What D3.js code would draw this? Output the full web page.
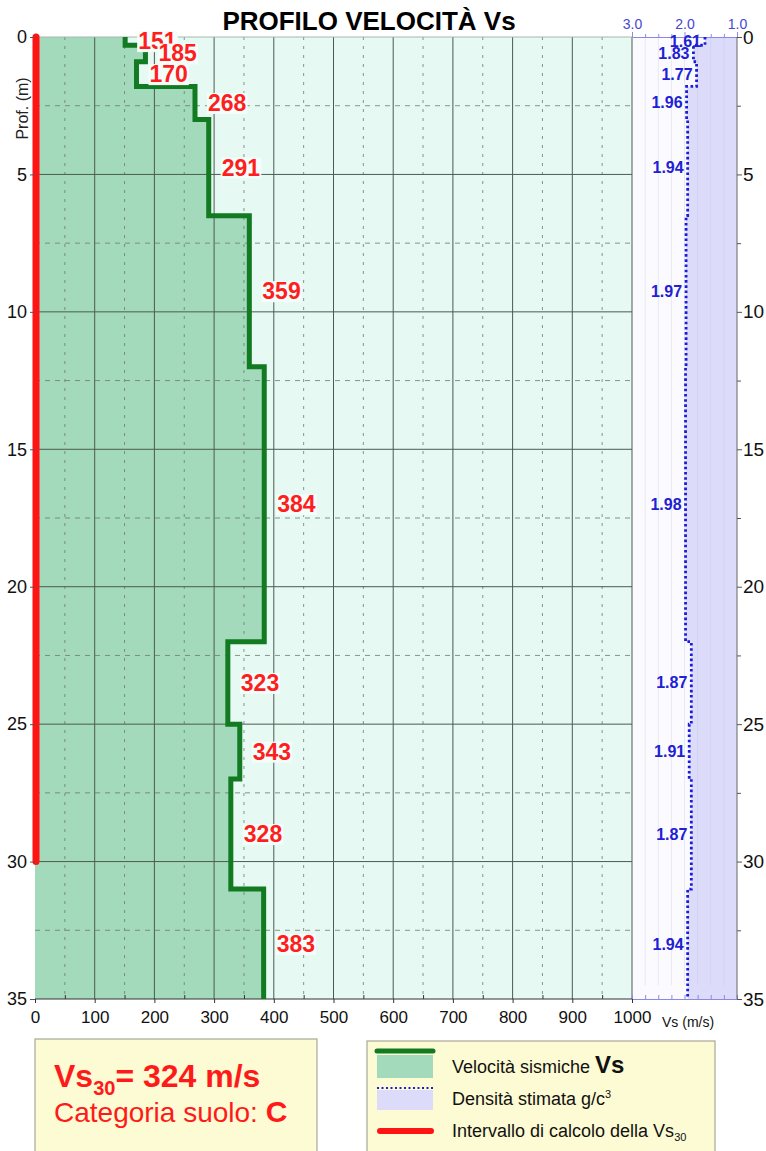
<!DOCTYPE html>
<html>
<head>
<meta charset="utf-8">
<script src="https://cdn.jsdelivr.net/npm/d3@7"></script>
<style>
  body { margin: 0; background: #fff; }
  text { font-family: "Liberation Sans", Arial, sans-serif; }
</style>
</head>
<body>
<div id="chart"></div>
<script>
// layers of the profile (depth in m)
const layerTop = [0, 0.3, 0.9, 1.8, 3.0, 6.5, 12, 22, 25, 27, 31];
const layerBottom = [0.3, 0.9, 1.8, 3.0, 6.5, 12, 22, 25, 27, 31, 35];
const vsValues = [151, 185, 170, 268, 291, 359, 384, 323, 343, 328, 383];
const densityValues = [1.61, 1.83, 1.77, 1.96, 1.94, 1.97, 1.98, 1.87, 1.91, 1.87, 1.94];

const depthTicks = [0, 5, 10, 15, 20, 25, 30, 35];
const depthMinor = [2.5, 7.5, 12.5, 17.5, 22.5, 27.5, 32.5];
const vsTicks = [0, 100, 200, 300, 400, 500, 600, 700, 800, 900, 1000];
const vsMinor = [50, 150, 250, 350, 450, 550, 650, 750, 850, 950];
const densityTicks = [3.0, 2.0, 1.0];
const densityMinor = [2.75, 2.5, 2.25, 1.75, 1.5, 1.25];

const vs30 = 324, vs30Depth = 30, soilCategory = "C";

const width = 766, height = 1151;

const svg = d3.select("#chart").append("svg")
  .attr("width", width)
  .attr("height", height)
  .style("display", "block");

const x = d3.scaleLinear([0, 1000], [35, 632]);
const y = d3.scaleLinear([0, 35], [37, 999]);
const xd = d3.scaleLinear([3, 1], [632, 737]);

const layers = vsValues.map((v, i) => ({v, d: densityValues[i], top: layerTop[i], bottom: layerBottom[i]}));
const steps = layers.flatMap(l => [{v: l.v, d: l.d, z: l.top}, {v: l.v, d: l.d, z: l.bottom}]);

// title
svg.append("text")
  .attr("x", 369).attr("y", 30)
  .attr("text-anchor", "middle")
  .attr("font-size", 26).attr("font-weight", "bold")
  .text("PROFILO VELOCITÀ Vs");

// backgrounds
svg.append("rect")
  .attr("x", x(0)).attr("y", y(0))
  .attr("width", x(1000) - x(0)).attr("height", y(35) - y(0))
  .attr("fill", "#e6f9f2");

svg.append("rect")
  .attr("x", xd(3)).attr("y", y(0))
  .attr("width", xd(1) - xd(3)).attr("height", y(35) - y(0))
  .attr("fill", "#fbfbff");

// Vs area
svg.append("path")
  .datum(steps)
  .attr("fill", "#a3dabb")
  .attr("d", d3.area().y(d => y(d.z)).x0(x(0)).x1(d => x(d.v)));

// density area
svg.append("path")
  .datum(steps)
  .attr("fill", "#dcdcfa")
  .attr("d", d3.area().y(d => y(d.z)).x0(d => xd(d.d)).x1(xd(1)));

// density panel faint grid
svg.append("g")
  .selectAll("line")
  .data(densityMinor.concat([2.0]))
  .join("line")
  .attr("x1", d => xd(d)).attr("x2", d => xd(d))
  .attr("y1", y(0)).attr("y2", y(34.5))
  .attr("stroke", "#b8b8e0").attr("stroke-opacity", 0.3).attr("stroke-width", 1);

// grid
const grid = svg.append("g");
grid.selectAll(".vmaj")
  .data(vsTicks.slice(1))
  .join("line")
  .attr("x1", d => x(d)).attr("x2", d => x(d))
  .attr("y1", y(0)).attr("y2", y(35))
  .attr("stroke", "#4d5a52").attr("stroke-width", 1);
grid.selectAll(".vmin")
  .data(vsMinor)
  .join("line")
  .attr("x1", d => x(d)).attr("x2", d => x(d))
  .attr("y1", y(0)).attr("y2", y(35))
  .attr("stroke", "#6d7a72").attr("stroke-width", 0.8)
  .attr("stroke-dasharray", "3,6");
grid.selectAll(".hmaj")
  .data(depthTicks.slice(1, -1))
  .join("line")
  .attr("x1", x(0)).attr("x2", x(1000))
  .attr("y1", d => y(d)).attr("y2", d => y(d))
  .attr("stroke", "#4d5a52").attr("stroke-width", 1);
grid.selectAll(".hmin")
  .data(depthMinor)
  .join("line")
  .attr("x1", x(0)).attr("x2", x(1000))
  .attr("y1", d => y(d)).attr("y2", d => y(d))
  .attr("stroke", "#6d7a72").attr("stroke-width", 0.8)
  .attr("stroke-dasharray", "5,5");

// frame lines
svg.append("line")
  .attr("x1", x(0)).attr("x2", x(1000)).attr("y1", y(0)).attr("y2", y(0))
  .attr("stroke", "#a8b8b0").attr("stroke-width", 1);
svg.append("line")
  .attr("x1", x(0)).attr("x2", x(1000)).attr("y1", y(35)).attr("y2", y(35))
  .attr("stroke", "#333").attr("stroke-width", 1);

// density panel axes (top and bottom)
const blue = "#4646d2";
const topAxis = svg.append("g")
  .attr("transform", `translate(0,${y(0)})`)
  .call(d3.axisTop(xd).tickValues(densityTicks).tickFormat(d3.format(".1f")).tickSize(5).tickPadding(3));
topAxis.selectAll("path").attr("stroke", "#8a8ae6");
topAxis.selectAll("line").attr("stroke", "#8a8ae6");
topAxis.selectAll("text").attr("fill", blue).attr("font-size", 14).attr("font-family", null);
svg.append("g")
  .attr("transform", `translate(0,${y(0)})`)
  .call(d3.axisTop(xd).tickValues(densityMinor).tickFormat("").tickSize(3))
  .call(g => g.select(".domain").remove())
  .selectAll("line").attr("stroke", "#8a8ae6");

svg.append("g")
  .attr("transform", `translate(0,${y(35)})`)
  .call(d3.axisTop(xd).tickValues(densityTicks.concat(densityMinor)).tickFormat("").tickSize(4))
  .call(g => g.selectAll("path, line").attr("stroke", "#8a8ae6"));

// Vs step line
svg.append("path")
  .datum(steps)
  .attr("fill", "none")
  .attr("stroke", "#127a20")
  .attr("stroke-width", 5)
  .attr("d", d3.line().x(d => x(d.v)).y(d => y(d.z)));

// density dotted line
svg.append("path")
  .datum(steps)
  .attr("fill", "none")
  .attr("stroke", "#1c1cd8")
  .attr("stroke-width", 2.8)
  .attr("stroke-dasharray", "2.6,2.6")
  .attr("d", d3.line().x(d => xd(d.d)).y(d => y(d.z)));

// Vs30 interval
svg.append("line")
  .attr("x1", x(0) + 1).attr("x2", x(0) + 1)
  .attr("y1", y(0)).attr("y2", y(vs30Depth))
  .attr("stroke", "#ff1414").attr("stroke-width", 7)
  .attr("stroke-linecap", "round");

// right axis line
svg.append("line")
  .attr("x1", xd(1)).attr("x2", xd(1)).attr("y1", y(0)).attr("y2", y(35))
  .attr("stroke", "#666").attr("stroke-width", 1);

// left axis
const leftAxis = svg.append("g")
  .attr("transform", `translate(${x(0)},0)`)
  .call(d3.axisLeft(y).tickValues(depthTicks).tickSize(5).tickPadding(3));
leftAxis.select(".domain").remove();
leftAxis.selectAll("line").attr("stroke", "#555");
leftAxis.selectAll("text").attr("font-size", 18).attr("font-family", null).attr("fill", "#111");

svg.append("text")
  .attr("transform", `translate(22,${y(2.6)}) rotate(-90)`)
  .attr("text-anchor", "middle")
  .attr("dominant-baseline", "central")
  .attr("font-size", 16)
  .attr("fill", "#222")
  .text("Prof. (m)");

// right axis
const rightAxis = svg.append("g")
  .attr("transform", `translate(${xd(1)},0)`)
  .call(d3.axisRight(y).tickValues(depthTicks).tickSize(5).tickPadding(1));
rightAxis.select(".domain").remove();
rightAxis.selectAll("line").attr("stroke", "#555");
rightAxis.selectAll("text").attr("font-size", 19).attr("font-family", null).attr("fill", "#111");
svg.append("g")
  .attr("transform", `translate(${xd(1)},0)`)
  .call(d3.axisRight(y).tickValues(depthMinor).tickFormat("").tickSize(4))
  .call(g => g.select(".domain").remove())
  .selectAll("line").attr("stroke", "#555");

// bottom axis
const bottomAxis = svg.append("g")
  .attr("transform", `translate(0,${y(35)})`)
  .call(d3.axisBottom(x).tickValues(vsTicks).tickFormat(d3.format("d")).tickSize(4).tickPadding(8));
bottomAxis.select(".domain").remove();
bottomAxis.selectAll("line").attr("stroke", "#333");
bottomAxis.selectAll("text").attr("font-size", 17).attr("font-family", null).attr("fill", "#111");
svg.append("g")
  .attr("transform", `translate(0,${y(35)})`)
  .call(d3.axisTop(x).tickValues(vsMinor).tickFormat("").tickSize(4))
  .call(g => g.select(".domain").remove())
  .selectAll("line").attr("stroke", "#333");

svg.append("text")
  .attr("x", 662).attr("y", y(35) + 28)
  .attr("font-size", 14)
  .attr("fill", "#111")
  .text("Vs (m/s)");

// Vs labels
const vsLabels = svg.append("g");
layers.forEach(l => {
  const g = vsLabels.append("g");
  const t = g.append("text")
    .attr("x", x(l.v) + 13)
    .attr("y", y((l.top + l.bottom) / 2))
    .attr("dominant-baseline", "central")
    .attr("font-size", 23)
    .attr("font-weight", "bold")
    .attr("fill", "#ff1e1e")
    .text(l.v);
  const b = t.node().getBBox();
  g.insert("rect", "text")
    .attr("x", b.x - 1).attr("y", b.y + 3)
    .attr("width", b.width + 2).attr("height", b.height - 5)
    .attr("fill", "#f3fdfa");
});

// density labels
svg.append("g")
  .selectAll("text")
  .data(layers)
  .join("text")
  .attr("x", d => xd(d.d) - 4)
  .attr("y", d => y((d.top + d.bottom) / 2))
  .attr("text-anchor", "end")
  .attr("dominant-baseline", "central")
  .attr("font-size", 16)
  .attr("font-weight", "bold")
  .attr("fill", "#2020d4")
  .text(d => d.d.toFixed(2));

// result box
svg.append("rect")
  .attr("x", 35).attr("y", 1039)
  .attr("width", 282).attr("height", 130)
  .attr("fill", "#fdfbd3").attr("stroke", "#a9a898").attr("stroke-width", 1.2);

const res = svg.append("text")
  .attr("x", 54).attr("y", 1087)
  .attr("font-size", 32).attr("font-weight", "bold")
  .attr("fill", "#ff1a1a");
res.append("tspan").text("Vs");
res.append("tspan").attr("font-size", 20).attr("dy", 8).text("30");
res.append("tspan").attr("dy", -8).text(`= ${vs30} m/s`);

const cat = svg.append("text")
  .attr("x", 54).attr("y", 1122)
  .attr("font-size", 28)
  .attr("fill", "#ff1a1a");
cat.append("tspan").text("Categoria suolo: ");
cat.append("tspan").attr("font-weight", "bold").attr("font-size", 30).text(soilCategory);

// legend box
svg.append("rect")
  .attr("x", 367).attr("y", 1041)
  .attr("width", 348).attr("height", 130)
  .attr("fill", "#fdfbd3").attr("stroke", "#a9a898").attr("stroke-width", 1.2);

svg.append("rect")
  .attr("x", 377).attr("y", 1055).attr("width", 56).attr("height", 23)
  .attr("fill", "#a3dabb");
svg.append("line")
  .attr("x1", 377).attr("x2", 433).attr("y1", 1051).attr("y2", 1051)
  .attr("stroke", "#127a20").attr("stroke-width", 5).attr("stroke-linecap", "round");
svg.append("rect")
  .attr("x", 377).attr("y", 1090).attr("width", 56).attr("height", 20)
  .attr("fill", "#dcdcfa");
svg.append("line")
  .attr("x1", 377).attr("x2", 433).attr("y1", 1088).attr("y2", 1088)
  .attr("stroke", "#1c1cd8").attr("stroke-width", 2).attr("stroke-dasharray", "2,2.5");
svg.append("line")
  .attr("x1", 380).attr("x2", 431).attr("y1", 1131).attr("y2", 1131)
  .attr("stroke", "#ff1414").attr("stroke-width", 6).attr("stroke-linecap", "round");

const leg1 = svg.append("text").attr("x", 452).attr("y", 1073).attr("font-size", 18).attr("fill", "#111");
leg1.append("tspan").text("Velocità sismiche ");
leg1.append("tspan").attr("font-weight", "bold").attr("font-size", 24).text("Vs");

const leg2 = svg.append("text").attr("x", 452).attr("y", 1105).attr("font-size", 18).attr("fill", "#111");
leg2.append("tspan").text("Densità stimata g/c");
leg2.append("tspan").attr("font-size", 11).attr("dy", -7).text("3");

const leg3 = svg.append("text").attr("x", 452).attr("y", 1137).attr("font-size", 18).attr("fill", "#111");
leg3.append("tspan").text("Intervallo di calcolo della Vs");
leg3.append("tspan").attr("font-size", 11).attr("dy", 4).text("30");
</script>
</body>
</html>
